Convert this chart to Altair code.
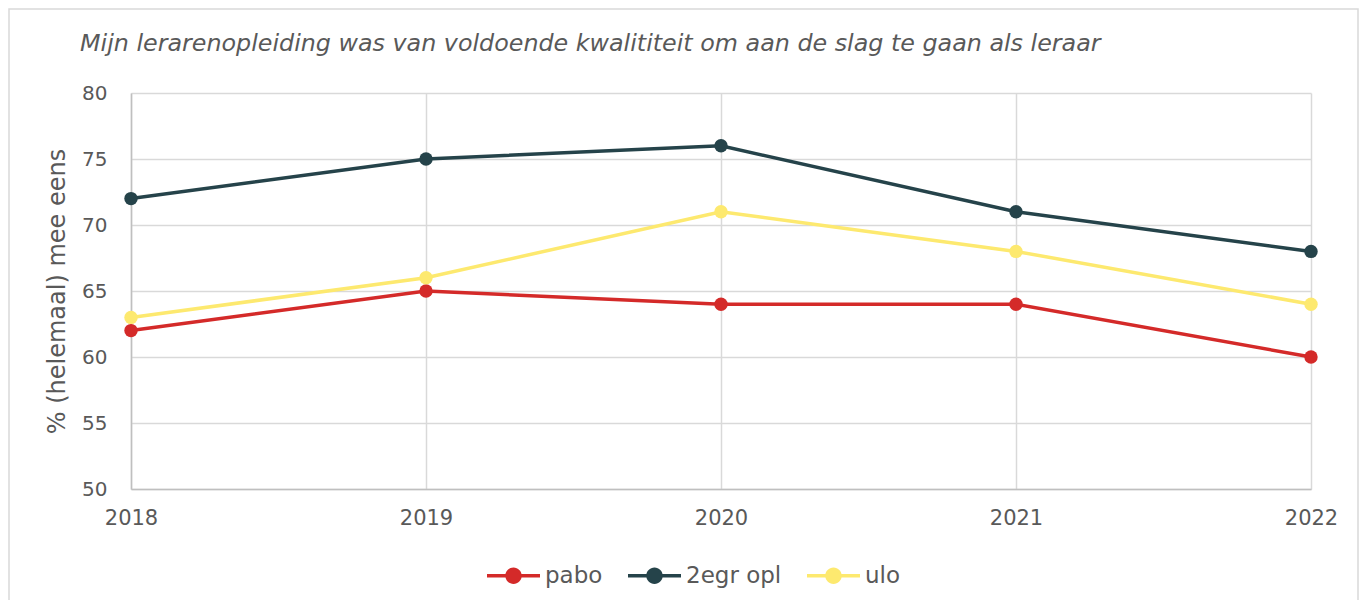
import altair as alt
import pandas as pd

years = [2018, 2019, 2020, 2021, 2022]
series = ["pabo", "2egr opl", "ulo"]
pabo = [62, 65, 64, 64, 60]
tweegr = [72, 75, 76, 71, 68]
ulo = [63, 66, 71, 68, 64]
colors = ["#d42a29", "#25434a", "#fde96f"]
title_text = "Mijn lerarenopleiding was van voldoende kwalititeit om aan de slag te gaan als leraar"
y_title = "% (helemaal) mee eens"

rows = []
for name, vals in zip(series, [pabo, tweegr, ulo]):
    for yr, v in zip(years, vals):
        rows.append({"jaar": yr, "reeks": name, "waarde": v})
df = pd.DataFrame(rows)

FONT = "DejaVu Sans"
GRAY = "#595959"

x = alt.X("jaar:Q", scale=alt.Scale(domain=[2018, 2022], nice=False, zero=False),
          axis=alt.Axis(values=years, format="d", title=None, labelFontSize=21,
                        labelColor=GRAY, labelFont=FONT, ticks=False, labelPadding=18,
                        domainColor="#bfbfbf", gridColor="#d9d9d9", labelFlush=False))
y = alt.Y("waarde:Q", scale=alt.Scale(domain=[50, 80], nice=False, zero=False),
          axis=alt.Axis(values=[50, 55, 60, 65, 70, 75, 80], title=y_title, titleFontSize=24,
                        titleFont=FONT, titleColor=GRAY, titleFontWeight="normal",
                        labelFontSize=20, labelColor=GRAY, labelFont=FONT, ticks=False,
                        labelPadding=24, titlePadding=12, domainColor="#bfbfbf",
                        gridColor="#d9d9d9"))
color = alt.Color("reeks:N", scale=alt.Scale(domain=series, range=colors),
                  legend=alt.Legend(title=None, orient="none", legendX=356, legendY=456,
                                    direction="horizontal", labelFontSize=23, labelFont=FONT,
                                    labelColor=GRAY, columnPadding=25, labelOffset=5,
                                    symbolType="M-1,-0.07H1V0.07H-1Z M-0.31,0A0.31,0.31 0 1,1 0.31,0A0.31,0.31 0 1,1 -0.31,0Z",
                                    symbolSize=2809, symbolStrokeWidth=0, symbolOpacity=1))

base = alt.Chart(df).encode(x=x, y=y, color=color)
lines = base.mark_line(strokeWidth=3.5)
points = base.mark_point(filled=True, size=180, opacity=1)

frame = alt.Chart(pd.DataFrame({"a": [0]})).mark_rect(
    fill=None, stroke="#d9d9d9", strokeWidth=1.5
).encode(x=alt.value(-122), x2=alt.value(1227), y=alt.value(-84), y2=alt.value(510))

chart = alt.layer(frame, lines, points).properties(
    width=1180, height=396,
    title=alt.TitleParams(title_text, anchor="start", frame="group", dx=-51, offset=-67,
                          baseline="alphabetic",
                          fontSize=23.8, font=FONT, fontStyle="italic", fontWeight="normal",
                          color=GRAY),
    autosize=alt.AutoSizeParams(type="none"),
    padding={"left": 123, "top": 85, "right": 49, "bottom": 111},
).configure_view(stroke=None).configure_axis(gridWidth=1.5, domainWidth=1.5)

chart.save("out.html", embed_options={"renderer": "svg", "actions": False})
